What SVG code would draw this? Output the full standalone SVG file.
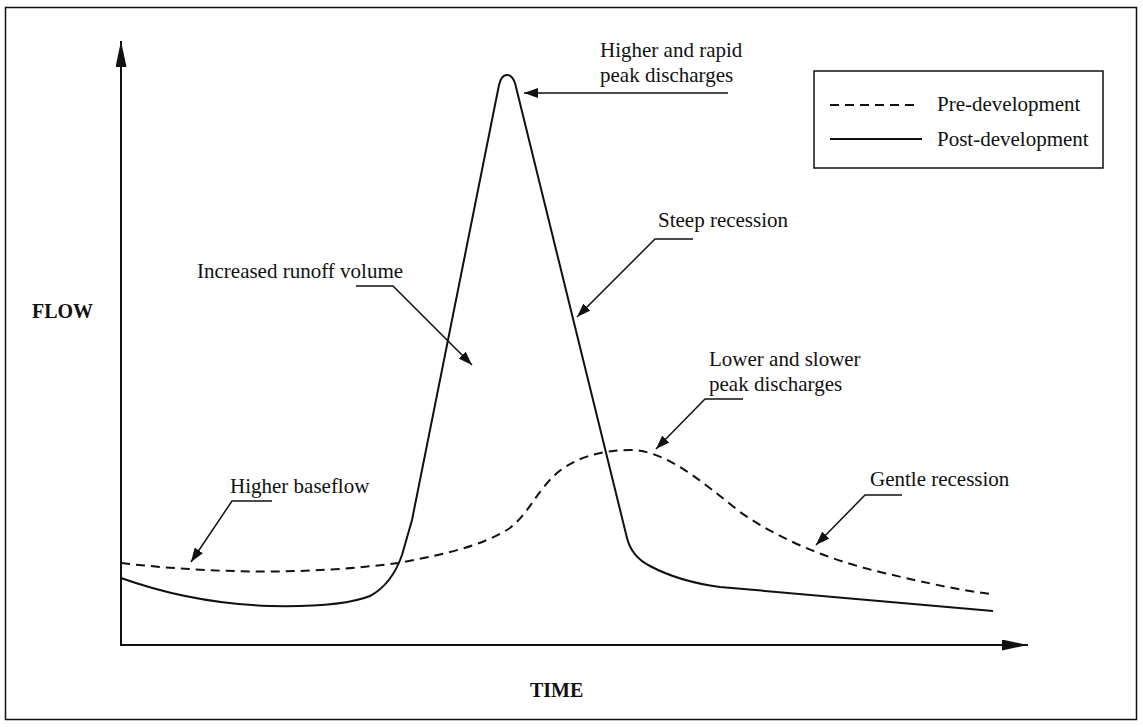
<svg xmlns="http://www.w3.org/2000/svg" width="1143" height="727" viewBox="0 0 1143 727">
<style>
text{font-family:"Liberation Serif","Times New Roman",serif;font-size:21px;fill:#111}
.bold{font-weight:bold;font-size:20px}
.axis{stroke:#111;stroke-width:2;fill:none}
.post{stroke:#111;stroke-width:2;fill:none;stroke-linejoin:round}
.pre{stroke:#111;stroke-width:2;fill:none;stroke-dasharray:9 6}
.lead{stroke:#111;stroke-width:1.5;fill:none}
</style>
<defs>
<marker id="axhead" markerUnits="userSpaceOnUse" viewBox="0 0 26 11" refX="26" refY="5.5" markerWidth="26" markerHeight="11" orient="auto">
<path d="M0,0 L26,5.5 L0,11 z" fill="#111"/>
</marker>
<marker id="ldhead" markerUnits="userSpaceOnUse" viewBox="0 0 14 10" refX="14" refY="5" markerWidth="14" markerHeight="10" orient="auto">
<path d="M0,0 L14,5 L0,10 z" fill="#111"/>
</marker>
</defs>
<rect x="0" y="0" width="1143" height="727" fill="#fff"/>
<rect id="frame" x="5.5" y="7.5" width="1131" height="712" fill="none" stroke="#111" stroke-width="1.5"/>
<g id="axes">
<line class="axis" x1="121" y1="645" x2="121" y2="41" marker-end="url(#axhead)"/>
<line class="axis" x1="120" y1="645" x2="1028" y2="645" marker-end="url(#axhead)"/>
<text class="bold" x="32" y="318">FLOW</text>
<text class="bold" x="530" y="697">TIME</text>
</g>
<g id="curves">
<path id="pre-curve" class="pre" d="M121,563 Q270,580 398,563 C430,557 480,548 510,528 C530,512 535,493 557,473 C575,458 600,450 630,450 C665,450 700,480 740,512 C780,540 830,560 880,572 C930,584 960,590 990,594"/>
<path id="post-curve" class="post" d="M121,578 C160,592 210,604 270,606 C320,607 350,604 370,596 C385,588 395,575 402,555 L412,520 L499,85 C502,72 511,72 515,83 L627,538 C630,550 638,560 650,566 C665,574 690,583 720,587 L993,611"/>
</g>
<g id="legend">
<rect x="814" y="71" width="289" height="97" fill="none" stroke="#111" stroke-width="1.5"/>
<line class="pre" x1="830" y1="105" x2="920" y2="105"/>
<line class="post" x1="830" y1="139" x2="922" y2="139"/>
<text x="937" y="111">Pre-development</text>
<text x="937" y="146">Post-development</text>
</g>
<g id="connectors">
<polyline class="lead" points="728,93 524,93" marker-end="url(#ldhead)"/>
<polyline class="lead" points="693,239 655,239 577,317" marker-end="url(#ldhead)"/>
<polyline class="lead" points="356,286 393,286 472,365" marker-end="url(#ldhead)"/>
<polyline class="lead" points="743,399 705,399 656,449" marker-end="url(#ldhead)"/>
<polyline class="lead" points="272,501 232,501 191,562" marker-end="url(#ldhead)"/>
<polyline class="lead" points="902,495 865,495 816,545" marker-end="url(#ldhead)"/>
</g>
<g id="label-peak-high">
<text x="600" y="57">Higher and rapid</text>
<text x="600" y="82">peak discharges</text>
</g>
<g id="label-steep">
<text x="658" y="227">Steep recession</text>
</g>
<g id="label-volume">
<text x="197" y="278">Increased runoff volume</text>
</g>
<g id="label-peak-low">
<text x="709" y="366">Lower and slower</text>
<text x="709" y="391">peak discharges</text>
</g>
<g id="label-baseflow">
<text x="230" y="493">Higher baseflow</text>
</g>
<g id="label-gentle">
<text x="870" y="486">Gentle recession</text>
</g>
</svg>
